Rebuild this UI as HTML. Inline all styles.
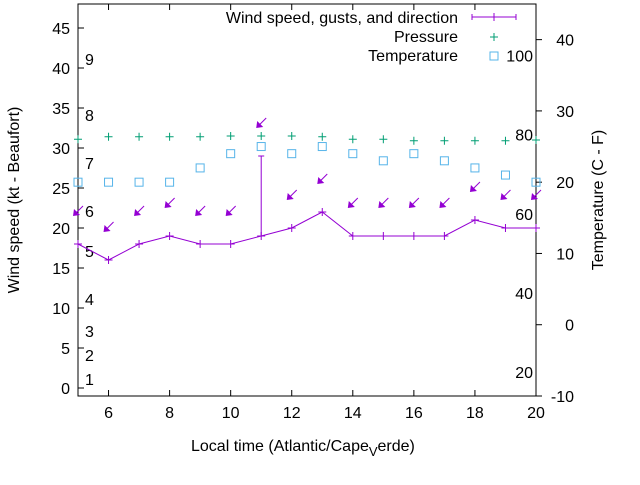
<!DOCTYPE html>
<html><head><meta charset="utf-8"><style>
body{margin:0;background:#fff}
svg text{font-family:"Liberation Sans",sans-serif;font-size:16px;fill:#000}
</style></head><body>
<svg id="c" width="640" height="480" viewBox="0 0 640 480" xmlns="http://www.w3.org/2000/svg">
<text x="191" y="451">Local time (Atlantic/Cape<tspan dy="5" font-size="13">V</tspan><tspan dy="-5">erde)</tspan></text>
</svg>
<script>
const hours=[5,6,7,8,9,10,11,12,13,14,15,16,17,18,19,20];
const windSpeed=[18,16,18,19,18,18,19,20,22,19,19,19,19,21,20,20];
const gustHours=[11];
const gustValues=[29];
const arrowLevel=[22,20,22,23,22,22,33,24,26,23,23,23,23,25,24,24];
const pressure=[31.1,31.4,31.4,31.4,31.4,31.5,31.5,31.5,31.4,31.1,31.1,30.9,30.9,30.9,30.9,31.0];
const tempC=[20,20,20,20,22,24,25,24,25,24,23,24,23,22,21,20];
const xTicks=[6,8,10,12,14,16,18,20];
const yTicks=[0,5,10,15,20,25,30,35,40,45];
const y2Ticks=[-10,0,10,20,30,40];
const beaufortLabels=["1","2","3","4","5","6","7","8","9"];
const beaufortY=[379,355,331,299,251,211,163,115,59];
const fahrLabels=[20,40,60,80,100];

const L=78,R=536,T=4,B=396;
const X=v=>L+(v-5)/(20-5)*(R-L);
const Y=v=>B-(v+1)/49*(B-T);
const Y2=v=>B-(v+10)/55*(B-T);
const svg=document.getElementById('c');
const NS='http://www.w3.org/2000/svg';
function add(tag,attrs,name,txt){const e=document.createElementNS(NS,tag);for(const k in attrs)e.setAttribute(k,attrs[k]);


if(txt!==undefined)e.textContent=txt;svg.appendChild(e);return e;}
const purple='#9400d3',green='#009e73',blue='#56b4e9';

add('rect',{x:L,y:T,width:R-L,height:B-T,fill:'none',stroke:'#000','stroke-width':1},'plot-border');
xTicks.forEach(t=>{add('line',{x1:X(t),x2:X(t),y1:B,y2:B-6,stroke:'#000'},'x-tick');
add('line',{x1:X(t),x2:X(t),y1:T,y2:T+6,stroke:'#000'},'x-tick-top');
add('text',{x:X(t),y:B+22,'text-anchor':'middle'},'x-tick-label',t);});
yTicks.forEach(t=>{add('line',{x1:L,x2:L+6,y1:Y(t),y2:Y(t),stroke:'#000'},'y-tick');
add('text',{x:L-8,y:Y(t)+6,'text-anchor':'end'},'y-tick-label',t);});
y2Ticks.forEach(t=>{add('line',{x1:R,x2:R+6,y1:Y2(t),y2:Y2(t),stroke:'#000'},'y2-tick');
add('text',{x:R+38,y:Y2(t)+6,'text-anchor':'end'},'y2-tick-label',t);});
beaufortLabels.forEach((s,i)=>add('text',{x:85,y:beaufortY[i]+6},'beaufort-label',s));
fahrLabels.forEach(f=>add('text',{x:533,y:Y2((f-32)*5/9)+6,'text-anchor':'end'},'fahrenheit-label',f));

add('text',{x:0,y:0,'text-anchor':'middle',transform:'translate(19,200) rotate(-90)'},'y-axis-title','Wind speed (kt - Beaufort)');
add('text',{x:0,y:0,'text-anchor':'middle',transform:'translate(603,200) rotate(-90)'},'y2-axis-title','Temperature (C - F)');

add('polyline',{points:hours.map((h,i)=>X(h)+','+Y(windSpeed[i])).join(' '),fill:'none',stroke:purple,'stroke-width':1},'wind-speed-line');
hours.forEach((h,i)=>{const x=X(h),y=Y(windSpeed[i]);
add('path',{d:`M${x-4},${y}H${x+4}M${x},${y-4}V${y+4}`,stroke:purple},'wind-point');});
gustHours.forEach((h,i)=>{const j=hours.indexOf(h);
add('path',{d:`M${X(h)},${Y(windSpeed[j])}V${Y(gustValues[i])}M${X(h)-3},${Y(gustValues[i])}H${X(h)+3}`,stroke:purple},'gust-bar');});
hours.forEach((h,i)=>{const x=X(h),y=Y(arrowLevel[i]);
add('line',{x1:x+5,y1:y-6,x2:x-3,y2:y+2,stroke:purple,'stroke-width':1},'wind-arrow');
add('polygon',{points:`${x-5},${y+4} ${x-4},${y-3} ${x+2},${y+3}`,fill:purple},'wind-arrow-head');});
hours.forEach((h,i)=>{const x=X(h),y=Y(pressure[i]);
add('path',{d:`M${x-4},${y}H${x+4}M${x},${y-4}V${y+4}`,stroke:green},'pressure-point');});
hours.forEach((h,i)=>{add('rect',{x:X(h)-4,y:Y2(tempC[i])-4,width:8,height:8,fill:'none',stroke:blue},'temperature-point');});

add('text',{x:458,y:23,'text-anchor':'end'},'legend-wind-label','Wind speed, gusts, and direction');
add('path',{d:'M472,17H516M472,14V20M516,14V20M494,13V21',stroke:purple},'legend-wind-sample');
add('text',{x:458,y:42,'text-anchor':'end'},'legend-pressure-label','Pressure');
add('path',{d:'M490,37H498M494,33V41',stroke:green},'legend-pressure-sample');
add('text',{x:458,y:61,'text-anchor':'end'},'legend-temperature-label','Temperature');
add('rect',{x:490,y:52,width:8,height:8,fill:'none',stroke:blue},'legend-temperature-sample');
</script>
</body></html>
